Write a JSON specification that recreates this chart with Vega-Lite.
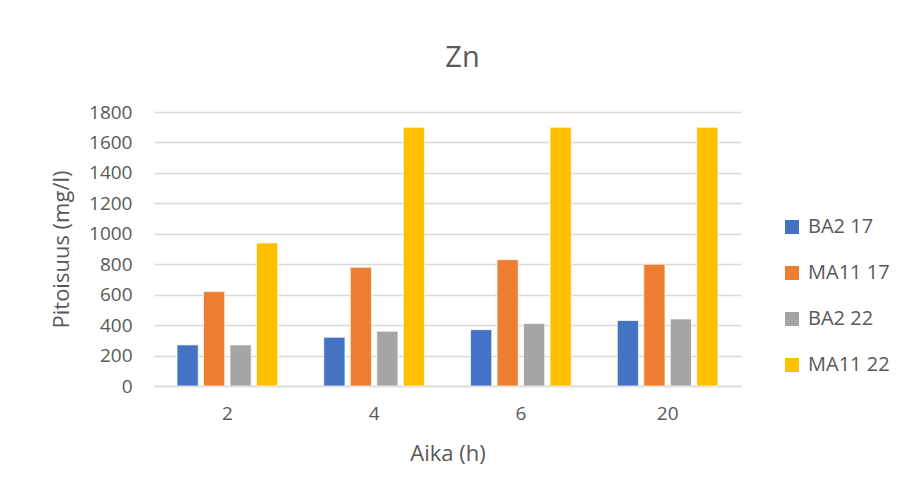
{
  "$schema": "https://vega.github.io/schema/vega-lite/v6.json",
  "autosize": {"type": "none"},
  "width": 587,
  "height": 274,
  "padding": {"left": 154, "top": 112, "right": 162, "bottom": 109},
  "background": "white",
  "title": {
    "text": "Zn",
    "fontSize": 29,
    "font": "Open Sans",
    "fontWeight": "normal",
    "color": "#595959",
    "anchor": "middle",
    "dx": 15,
    "offset": 30
  },
  "data": {
    "values": [
      {"aika": "2", "sarja": "BA2 17", "pitoisuus": 270},
      {"aika": "2", "sarja": "MA11 17", "pitoisuus": 620},
      {"aika": "2", "sarja": "BA2 22", "pitoisuus": 270},
      {"aika": "2", "sarja": "MA11 22", "pitoisuus": 940},
      {"aika": "4", "sarja": "BA2 17", "pitoisuus": 320},
      {"aika": "4", "sarja": "MA11 17", "pitoisuus": 780},
      {"aika": "4", "sarja": "BA2 22", "pitoisuus": 360},
      {"aika": "4", "sarja": "MA11 22", "pitoisuus": 1700},
      {"aika": "6", "sarja": "BA2 17", "pitoisuus": 370},
      {"aika": "6", "sarja": "MA11 17", "pitoisuus": 830},
      {"aika": "6", "sarja": "BA2 22", "pitoisuus": 410},
      {"aika": "6", "sarja": "MA11 22", "pitoisuus": 1700},
      {"aika": "20", "sarja": "BA2 17", "pitoisuus": 430},
      {"aika": "20", "sarja": "MA11 17", "pitoisuus": 800},
      {"aika": "20", "sarja": "BA2 22", "pitoisuus": 440},
      {"aika": "20", "sarja": "MA11 22", "pitoisuus": 1700}
    ]
  },
  "mark": {"type": "bar", "stroke": "white", "strokeWidth": 0.7},
  "encoding": {
    "x": {
      "field": "aika",
      "type": "nominal",
      "sort": ["2", "4", "6", "20"],
      "title": "Aika (h)",
      "scale": {"paddingInner": 0.314, "paddingOuter": 0.157},
      "axis": {
        "labelAngle": 0,
        "labelFontSize": 19,
        "labelPadding": 18,
        "titleFontSize": 22,
        "titlePadding": 20,
        "ticks": false,
        "domainColor": "#d9d9d9",
        "domainWidth": 1.5
      }
    },
    "xOffset": {
      "field": "sarja",
      "type": "nominal",
      "sort": ["BA2 17", "MA11 17", "BA2 22", "MA11 22"],
      "scale": {"paddingInner": 0.2, "paddingOuter": 0}
    },
    "y": {
      "field": "pitoisuus",
      "type": "quantitative",
      "title": "Pitoisuus (mg/l)",
      "scale": {"domain": [0, 1800], "nice": false},
      "axis": {
        "values": [0, 200, 400, 600, 800, 1000, 1200, 1400, 1600, 1800],
        "format": "d",
        "labelFontSize": 19,
        "labelPadding": 22,
        "titleFontSize": 22,
        "titlePadding": 15,
        "ticks": false,
        "domain": false,
        "gridColor": "#d9d9d9",
        "gridWidth": 1.5
      }
    },
    "color": {
      "field": "sarja",
      "type": "nominal",
      "sort": ["BA2 17", "MA11 17", "BA2 22", "MA11 22"],
      "scale": {
        "domain": ["BA2 17", "MA11 17", "BA2 22", "MA11 22"],
        "range": ["#4472C4", "#ED7D31", "#A5A5A5", "#FFC000"]
      },
      "legend": {
        "title": null,
        "orient": "none",
        "legendX": 628,
        "legendY": 105,
        "symbolType": "square",
        "symbolSize": 196,
        "symbolStrokeWidth": 0,
        "labelFontSize": 20,
        "labelOffset": 6,
        "rowPadding": 26
      }
    }
  },
  "config": {
    "font": "Open Sans",
    "view": {"stroke": null},
    "axis": {
      "labelColor": "#595959",
      "titleColor": "#595959",
      "labelFont": "Open Sans",
      "titleFont": "Open Sans",
      "titleFontWeight": "normal"
    },
    "legend": {"labelColor": "#595959", "labelFont": "Open Sans"}
  }
}
